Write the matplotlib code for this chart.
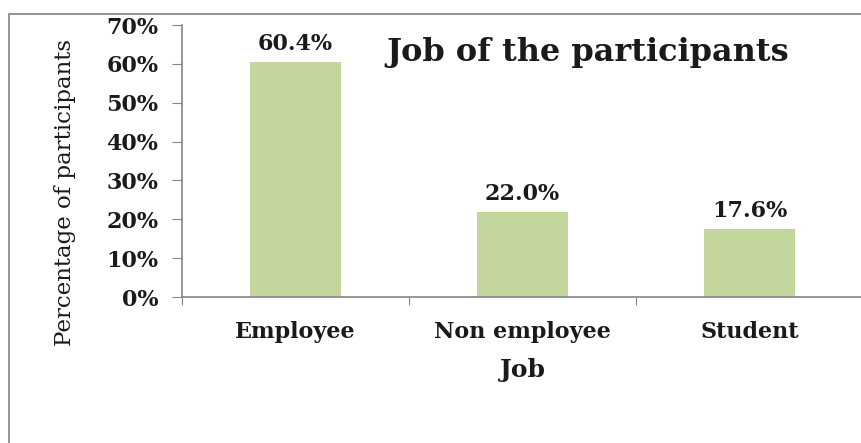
import matplotlib.pyplot as plt
from matplotlib.patches import Rectangle

jobs = ['Employee', 'Non employee', 'Student']
shares = [60.4, 22.0, 17.6]
yticks = [0, 10, 20, 30, 40, 50, 60, 70]

plt.rcParams['font.family'] = ['DejaVu Serif']
ink = '#1a1a1a'

fig = plt.figure(figsize=(8.61, 4.43), dpi=100)

# outer chart frame (top and left visible)
fig.patches.append(Rectangle((9 / 861, -0.1), 1.2, 1 - 14 / 443 + 0.1,
                             transform=fig.transFigure, fill=False,
                             edgecolor='#8c8c8c', linewidth=1.3))

ax = fig.add_axes([182 / 861, 1 - 297 / 443, 681 / 861, 272 / 443])
x = range(len(jobs))
ax.bar(x, shares, width=0.4, color='#c3d69b')
for xi, v in zip(x, shares):
    ax.text(xi, v + 1.8, '%.1f%%' % v, ha='center', va='bottom',
            fontsize=16, fontweight='bold', color=ink)

ax.set_xlim(-0.5, 2.5)
ax.set_ylim(0, 70)
ax.set_yticks(yticks)
ax.set_yticklabels(['%d%%' % t for t in yticks], fontsize=16,
                   fontweight='bold', color=ink)
ax.set_xticks([-0.5, 0.5, 1.5, 2.5])
ax.set_xticklabels([])
ax.set_xticks(list(x), minor=True)
ax.set_xticklabels(jobs, minor=True, fontsize=16, fontweight='bold',
                   color=ink)
ax.tick_params(axis='x', which='minor', length=0, pad=17)
ax.tick_params(axis='x', which='major', length=6, color='#868686')
ax.tick_params(axis='y', length=7, color='#868686', pad=10)

for s in ['top', 'right']:
    ax.spines[s].set_visible(False)
for s in ['left', 'bottom']:
    ax.spines[s].set_color('#868686')
    ax.spines[s].set_linewidth(1.2)

fig.text(523 / 861, 1 - 370 / 443, 'Job', ha='center', va='center',
         fontsize=18, fontweight='bold', color=ink)
fig.text(65 / 861, 1 - 192 / 443, 'Percentage of participants', rotation=90,
         ha='center', va='center', fontsize=16.5, color=ink)
fig.text(588 / 861, 1 - 61 / 443, 'Job of the participants', ha='center',
         va='baseline', fontsize=23, fontweight='bold', color=ink)

fig.savefig('out.png', dpi=100)
